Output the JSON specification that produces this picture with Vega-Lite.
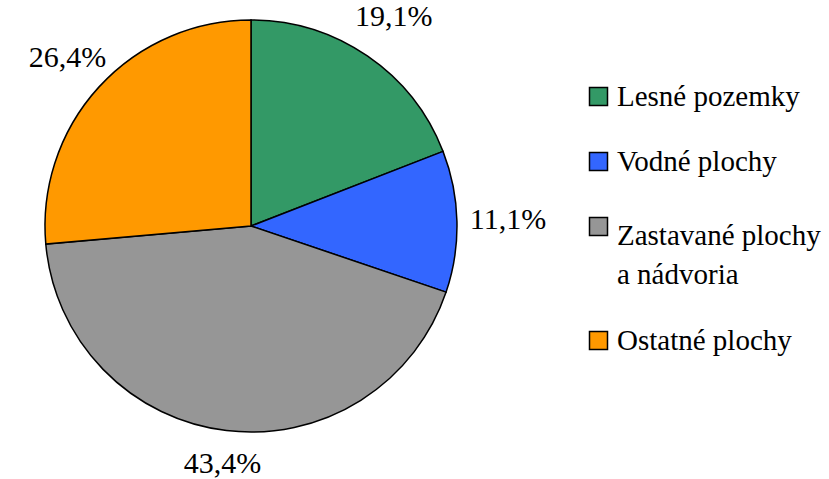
{
  "$schema": "https://vega.github.io/schema/vega-lite/v6.json",
  "width": 502,
  "height": 452,
  "padding": {"left": 0, "top": 0, "right": 327, "bottom": 27},
  "autosize": {"type": "none"},
  "background": "white",
  "config": {"legend": {"padding": 0}},
  "data": {
    "values": [
      {"kategoria": "Lesné pozemky", "podiel": 19.1, "label": "19,1%", "poradie": 1},
      {"kategoria": "Vodné plochy", "podiel": 11.1, "label": "11,1%", "poradie": 2},
      {"kategoria": "Zastavané plochy|a nádvoria", "podiel": 43.4, "label": "43,4%", "poradie": 3},
      {"kategoria": "Ostatné plochy", "podiel": 26.4, "label": "26,4%", "poradie": 4}
    ]
  },
  "encoding": {
    "theta": {"field": "podiel", "type": "quantitative", "stack": true},
    "order": {"field": "poradie", "type": "quantitative"}
  },
  "layer": [
    {
      "mark": {"type": "arc", "outerRadius": 206, "stroke": "black", "strokeWidth": 1.5},
      "encoding": {
        "color": {
          "field": "kategoria",
          "type": "nominal",
          "sort": ["Lesné pozemky", "Vodné plochy", "Zastavané plochy|a nádvoria", "Ostatné plochy"],
          "scale": {
            "domain": ["Lesné pozemky", "Vodné plochy", "Zastavané plochy|a nádvoria", "Ostatné plochy"],
            "range": ["#339966", "#3366FF", "#969696", "#FF9900"]
          },
          "legend": {
            "title": null,
            "orient": "none",
            "legendX": 584,
            "legendY": 82,
            "symbolType": "square",
            "symbolSize": 324,
            "symbolStrokeColor": "black",
            "symbolStrokeWidth": 1.5,
            "symbolOpacity": 1,
            "labelFont": "Liberation Serif",
            "labelFontSize": 29,
            "labelColor": "black",
            "labelOffset": 4,
            "labelLimit": 300,
            "labelExpr": "split(datum.label, '|')",
            "rowPadding": 35,
            "encode": {
              "labels": {
                "update": {
                  "lineHeight": {"value": 39},
                  "dy": {"signal": "indexof(datum.value, '|') >= 0 ? 9.75 : 0"}
                }
              }
            }
          }
        }
      }
    },
    {
      "mark": {"type": "text", "font": "Liberation Serif", "fontSize": 30, "color": "black"},
      "encoding": {
        "text": {"field": "label", "type": "nominal"},
        "radius": {
          "field": "podiel",
          "type": "quantitative",
          "scale": {"type": "linear", "zero": false, "domain": [11.1, 43.4], "range": [257, 240]}
        }
      }
    }
  ]
}
